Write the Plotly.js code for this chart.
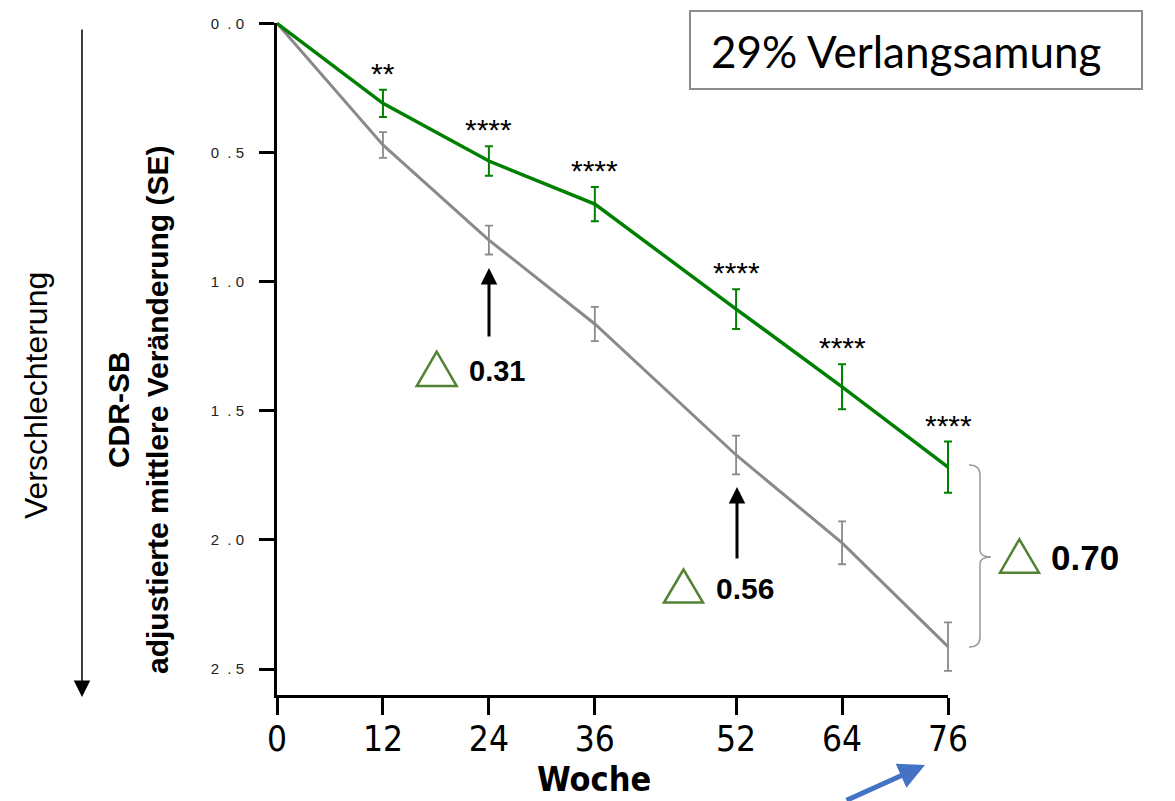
<!DOCTYPE html>
<html>
<head>
<meta charset="utf-8">
<script src="https://cdn.plot.ly/plotly-3.0.1.min.js"></script>
<style>html,body{margin:0;padding:0;background:#fff;} #chart{width:1175px;height:801px;}</style>
</head>
<body>
<div id="chart"></div>
<script>
// ---- data ----
const weeks = [0, 12, 24, 36, 52, 64, 76];
const treated = [0, 0.31, 0.533, 0.70, 1.106, 1.407, 1.718];
const treatedSE = [null, 0.053, 0.057, 0.066, 0.077, 0.087, 0.099];
const placebo = [0, 0.471, 0.839, 1.164, 1.671, 2.011, 2.413];
const placeboSE = [null, 0.05, 0.056, 0.066, 0.075, 0.083, 0.094];
const sigLabels = ["", "**", "****", "****", "****", "****", "****"];
const yTickVals = [0, 0.5, 1.0, 1.5, 2.0, 2.5];
const yTickText = ["0\u00a0\u00a0.\u00a00", "0\u00a0\u00a0.\u00a05", "1\u00a0\u00a0.\u00a00", "1\u00a0\u00a0.\u00a05", "2\u00a0\u00a0.\u00a00", "2\u00a0\u00a0.\u00a05"];
const deltaLabels = ["0.31", "0.56", "0.70"];
const boxText = "29% Verlangsamung";

const ARIAL = "Arial, 'Liberation Sans', sans-serif";
const NARROW = "'Liberation Sans Narrow', 'Arial Narrow', 'DejaVu Sans Condensed', sans-serif";
const GREEN = "#008000", GREY = "#8a8a8a", TRI = "#548235";

const seArr = a => a.map(v => (v === null ? undefined : v));

const W = 1175, H = 801;
// axis frame in pixels: x 0..76 -> 277..948, y 0..2.6 -> 23.3..695
const L = 277, R = 948, T = 23.3, B = 695;
const PX = p => p / W;
const PY = p => (H - p) / H;
const xMin = 0, xMax = 76, yTop = 0, yBot = 2.6;
const pxPerX = (R - L) / (xMax - xMin);
const pxPerY = (B - T) / (yBot - yTop);
// data subplot is padded so marks at the frame edges are not clipped
const padX = 2, padY = 0.05;

const traces = [
  {
    x: weeks, y: placebo, type: 'scatter', mode: 'lines', cliponaxis: false,
    line: {color: GREY, width: 3},
    error_y: {type: 'data', array: seArr(placeboSE), visible: true, color: GREY, thickness: 1.8, width: 4},
    hoverinfo: 'skip', showlegend: false, xaxis: 'x', yaxis: 'y'
  },
  {
    x: weeks, y: treated, type: 'scatter', mode: 'lines', cliponaxis: false,
    line: {color: GREEN, width: 3.5},
    error_y: {type: 'data', array: seArr(treatedSE), visible: true, color: GREEN, thickness: 2, width: 4},
    hoverinfo: 'skip', showlegend: false, xaxis: 'x', yaxis: 'y'
  },
  // invisible carrier for the frame axes
  {
    x: weeks, y: placebo, type: 'scatter', mode: 'markers', marker: {size: 1, opacity: 0},
    hoverinfo: 'skip', showlegend: false, xaxis: 'x2', yaxis: 'y2'
  }
];

const annotations = [];
weeks.forEach((w, i) => {
  if (!sigLabels[i]) return;
  annotations.push({
    x: w, y: treated[i] - treatedSE[i], xref: 'x', yref: 'y',
    text: sigLabels[i], showarrow: false, xanchor: 'center', yanchor: 'bottom',
    yshift: -2, font: {family: ARIAL, size: 30, color: '#000'}
  });
});

const tri = (ax, ay, bl, br, by) =>
  `M${PX(ax)},${PY(ay)} L${PX(bl)},${PY(by)} L${PX(br)},${PY(by)} Z`;
const shapes = [
  {type: 'path', xref: 'paper', yref: 'paper', path: tri(436.7, 351.7, 416.7, 456.7, 386), line: {color: TRI, width: 2.5}},
  {type: 'path', xref: 'paper', yref: 'paper', path: tri(683.5, 569.5, 664, 703, 602.5), line: {color: TRI, width: 2.5}},
  {type: 'path', xref: 'paper', yref: 'paper', path: tri(1019.3, 539.3, 1000, 1039, 572.7), line: {color: TRI, width: 2.5}},
  {type: 'path', xref: 'paper', yref: 'paper',
   path: `M${PX(969)},${PY(465)} Q${PX(980)},${PY(465)} ${PX(980)},${PY(475)} L${PX(980)},${PY(550)} Q${PX(980)},${PY(557)} ${PX(991)},${PY(557)} Q${PX(980)},${PY(557)} ${PX(980)},${PY(564)} L${PX(980)},${PY(637)} Q${PX(980)},${PY(647)} ${PX(969)},${PY(647)}`,
   line: {color: '#9a9a9a', width: 1.5}},
  {type: 'rect', xref: 'paper', yref: 'paper', x0: PX(690), x1: PX(1142), y0: PY(89), y1: PY(11),
   line: {color: '#8c8c8c', width: 2}, fillcolor: 'rgba(0,0,0,0)'}
];

annotations.push(
  {xref: 'paper', yref: 'paper', x: PX(467), y: PY(371), text: '<b>' + deltaLabels[0] + '</b>', showarrow: false,
   xanchor: 'left', yanchor: 'middle', font: {family: ARIAL, size: 29, color: '#000'}},
  {xref: 'paper', yref: 'paper', x: PX(714), y: PY(588), text: '<b>' + deltaLabels[1] + '</b>', showarrow: false,
   xanchor: 'left', yanchor: 'middle', font: {family: ARIAL, size: 30, color: '#000'}},
  {xref: 'paper', yref: 'paper', x: PX(1049), y: PY(558), text: '<b>' + deltaLabels[2] + '</b>', showarrow: false,
   xanchor: 'left', yanchor: 'middle', font: {family: ARIAL, size: 35, color: '#000'}},
  {xref: 'paper', yref: 'paper', x: PX(489), y: PY(268), ax: 0, ay: 70, text: '', showarrow: true,
   arrowhead: 2, arrowsize: 1.1, arrowwidth: 3, arrowcolor: '#000'},
  {xref: 'paper', yref: 'paper', x: PX(737), y: PY(487), ax: 0, ay: 73, text: '', showarrow: true,
   arrowhead: 2, arrowsize: 1.1, arrowwidth: 3, arrowcolor: '#000'},
  {xref: 'paper', yref: 'paper', x: PX(82), y: PY(697), ax: 0, ay: -669, text: '', showarrow: true,
   arrowhead: 2, arrowsize: 2.2, arrowwidth: 1.5, arrowcolor: '#000'},
  {xref: 'paper', yref: 'paper', x: PX(925), y: PY(765), ax: -80, ay: 46, text: '', showarrow: true,
   arrowhead: 2, arrowsize: 1.05, arrowwidth: 5, arrowcolor: '#4472C4'},
  {xref: 'paper', yref: 'paper', x: PX(709), y: PY(51), text: boxText, showarrow: false,
   xanchor: 'left', yanchor: 'middle', font: {family: "Lato, 'Open Sans', sans-serif", size: 44, color: '#000'}},
  {xref: 'paper', yref: 'paper', x: PX(594), y: PY(801), text: '<b>Woche</b>', showarrow: false,
   xanchor: 'center', yanchor: 'bottom', font: {family: NARROW, size: 34, color: '#000'}},
  {xref: 'paper', yref: 'paper', x: PX(138), y: PY(410), text: '<b>CDR-SB</b><br><b>adjustierte mittlere Veränderung (SE)</b>',
   showarrow: false, textangle: -90, xanchor: 'center', yanchor: 'middle', align: 'center',
   font: {family: ARIAL, size: 30, color: '#000'}},
  {xref: 'paper', yref: 'paper', x: PX(36), y: PY(396), text: 'Verschlechterung', showarrow: false, textangle: -90,
   xanchor: 'center', yanchor: 'middle', font: {family: ARIAL, size: 32, color: '#000'}}
);

const dataL = L - padX * pxPerX, dataR = R + padX * pxPerX;
const dataT = T - padY * pxPerY, dataB = B + padY * pxPerY;

const layout = {
  width: W, height: H,
  margin: {l: 0, r: 0, t: 0, b: 0, pad: 0},
  paper_bgcolor: '#fff', plot_bgcolor: 'rgba(0,0,0,0)',
  showlegend: false,
  xaxis: {domain: [PX(dataL), PX(dataR)], range: [xMin - padX, xMax + padX], visible: false, fixedrange: true},
  yaxis: {domain: [PY(dataB), PY(dataT)], range: [yBot + padY, yTop - padY], visible: false, fixedrange: true},
  xaxis2: {
    domain: [PX(L), PX(R)], anchor: 'y2',
    range: [xMin, xMax], tickmode: 'array', tickvals: weeks, ticktext: weeks.map(String),
    showline: true, linecolor: '#000', linewidth: 3, showgrid: false, zeroline: false,
    ticks: 'outside', ticklen: 17, tickwidth: 3, tickcolor: '#000', ticklabelstandoff: -6,
    tickfont: {family: NARROW, size: 35, color: '#000'}, fixedrange: true
  },
  yaxis2: {
    domain: [PY(B), PY(T)], anchor: 'x2',
    range: [yBot, yTop], tickmode: 'array', tickvals: yTickVals, ticktext: yTickText,
    showline: true, linecolor: '#000', linewidth: 3, showgrid: false, zeroline: false,
    ticks: 'outside', ticklen: 15, tickwidth: 3, tickcolor: '#000', ticklabelstandoff: 12,
    tickfont: {family: ARIAL, size: 15, color: '#222'}, fixedrange: true
  },
  shapes: shapes,
  annotations: annotations
};

Plotly.newPlot('chart', traces, layout, {displayModeBar: false, staticPlot: true});
</script>
</body>
</html>
